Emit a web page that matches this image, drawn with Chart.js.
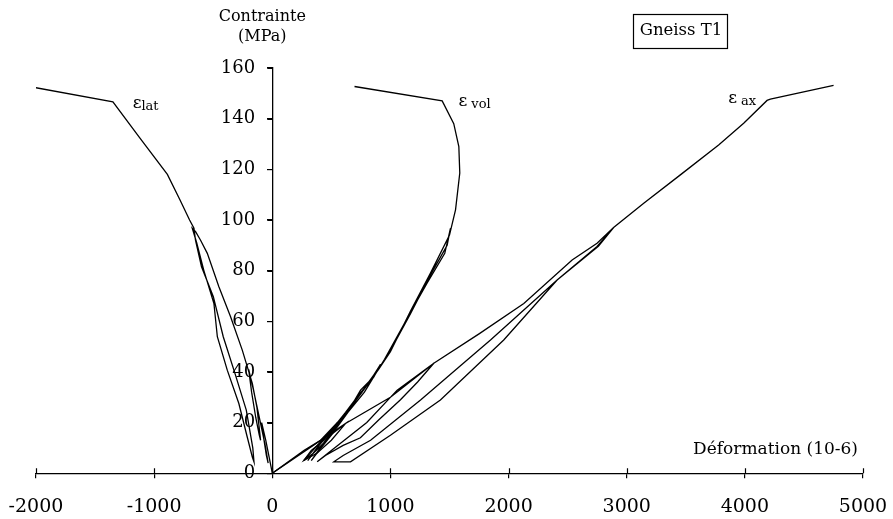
<!DOCTYPE html>
<html>
<head>
<meta charset="utf-8">
<script src="https://cdn.jsdelivr.net/npm/chart.js@4"></script>
<style>
  html, body { margin: 0; padding: 0; background: #fff; }
</style>
</head>
<body>
<canvas id="chart" width="893" height="519"></canvas>
<script>
const xTickValues = [-2000, -1000, 0, 1000, 2000, 3000, 4000, 5000];
const yTickValues = [0, 20, 40, 60, 80, 100, 120, 140, 160];

const seriesNames = ['lat', 'vol', 'ax'];

// lateral strain, cycles then failure
const latX = [0, -25, -55, -90, -70, -50, -35, -60, -110, -160, -200, -175, -140, -110, -99, -130, -169, -254, -353, -452, -550, -607, -649, -677,
  -640, -579, -494, -465, -381, -283, -212, -169, -155, -165, -220, -316, -415, -499, -599, -650, -663, -700, -782, -888, -1120, -1349, -2011];
const latY = [0, 6, 13, 20, 13, 7, 4, 11, 22, 33, 41, 32, 22, 15, 13, 26, 35.5, 48.6, 61.8, 73.6, 86.8, 92, 95.4, 96.7,
  91, 80, 67, 53.9, 40.7, 27.5, 14.3, 6.4, 4.5, 10, 24.9, 39.4, 53.9, 69.7, 81.5, 92, 96.7, 100, 108, 118, 132.3, 146.6, 152.3];

// volumetric strain
const volX = [0, 270, 409, 550, 480, 350, 267, 400, 550, 662, 747, 832, 916, 860, 733, 620, 500, 380, 300, 409, 550, 680, 800, 972, 1170, 1339, 1480, 1508,
  1460, 1310, 1140, 950, 780, 640, 500, 380, 330, 450, 600, 760, 900, 1000, 1170, 1339, 1500, 1551, 1587, 1579, 1536, 1438, 696];
const volY = [0, 9, 13, 20, 14, 8, 5, 12, 19.6, 26, 32.8, 36.8, 43, 38, 31, 24, 17, 10, 5, 12, 19, 27, 35, 46, 63, 78.3, 90, 96.7,
  86.8, 75, 61, 45, 32, 24, 15, 8, 5, 13, 22, 32, 41, 48, 64, 79, 94, 104, 118.5, 129, 138, 147, 152.7];

// axial strain
const axX = [0, 300, 620, 500, 380, 267, 330, 450, 620, 1000, 1367, 1230, 1085, 900, 746, 600, 450, 380,
  500, 800, 1057, 1367, 1750, 2129, 2538, 2749, 2889,
  2760, 2411, 1959, 1423, 1000, 662, 521,
  600, 832, 1255, 1600, 1847, 2411, 2749, 2889, 3144, 3454, 3778, 3990, 4188, 4216, 4751];
const axY = [0, 9.5, 19.6, 13, 8, 5, 9, 13.5, 19.6, 30, 43.4, 36, 29, 21, 14, 11, 7, 4.5,
  9, 20, 32.8, 43.4, 55, 67, 84.2, 90.8, 97,
  89.6, 76.3, 52.6, 28.9, 15, 4.5, 4.5,
  7, 13, 28.9, 42.7, 52.6, 76.3, 89.5, 97, 106.6, 117.8, 129.6, 138.2, 147.2, 147.7, 153.1];

const toPoints = (xs, ys) => xs.map((x, i) => ({ x, y: ys[i] }));

const SERIF = '"DejaVu Serif", "Liberation Serif", serif';

const makeDataset = (name, xs, ys) => ({
    label: name,
    data: toPoints(xs, ys),
    showLine: true,
    borderColor: '#000',
    borderWidth: 1.3,
    pointRadius: 0,
    tension: 0,
    fill: false,
});

const textPlugin = {
    id: 'textPlugin',
    afterDraw(chart) {
        const ctx = chart.ctx;
        const xs = chart.scales.x;
        const ys = chart.scales.y;
        const axisX = xs.getPixelForValue(0);
        ctx.save();
        ctx.fillStyle = '#000';
        ctx.strokeStyle = '#000';

        // the other half of each tick mark
        ctx.lineWidth = 1.2;
        ctx.beginPath();
        xTickValues.forEach(v => {
            const px = Math.round(xs.getPixelForValue(v)) + 0.5;
            const py = ys.getPixelForValue(0);
            ctx.moveTo(px, py - 5);
            ctx.lineTo(px, py);
        });
        yTickValues.forEach(v => {
            const py = Math.round(ys.getPixelForValue(v)) + 0.5;
            ctx.moveTo(axisX - 5, py);
            ctx.lineTo(axisX, py);
        });
        ctx.stroke();

        // axis titles
        ctx.font = `16px ${SERIF}`;
        ctx.textAlign = 'center';
        ctx.textBaseline = 'middle';
        ctx.fillText('Contrainte', axisX - 10, 17);
        ctx.fillText('(MPa)', axisX - 10, 37);
        ctx.font = `17px ${SERIF}`;
        ctx.textAlign = 'right';
        ctx.fillText('Déformation (10-6)', xs.getPixelForValue(5000) - 5, 450);

        // sample box
        ctx.font = `16.5px ${SERIF}`;
        ctx.textAlign = 'center';
        ctx.fillText('Gneiss T1', 681, 31);
        ctx.lineWidth = 1.2;
        ctx.strokeRect(633.5, 14.5, 94, 34);

        // curve labels
        const labelAt = (x, y, sub, gap) => {
            const px = xs.getPixelForValue(x);
            const py = ys.getPixelForValue(y);
            ctx.textAlign = 'left';
            ctx.textBaseline = 'alphabetic';
            ctx.font = `17px ${SERIF}`;
            ctx.fillText('ε', px, py + 5);
            const w = ctx.measureText('ε').width;
            ctx.font = `13px ${SERIF}`;
            ctx.fillText(sub, px + w + gap, py + 7);
        };
        labelAt(-1182, 146, 'lat', 0);
        labelAt(1576, 147, 'vol', 4);
        labelAt(3860, 148, 'ax', 4);
        ctx.restore();
    }
};

new Chart(document.getElementById('chart'), {
    type: 'scatter',
    data: {
        datasets: [
            makeDataset(seriesNames[0], latX, latY),
            makeDataset(seriesNames[1], volX, volY),
            makeDataset(seriesNames[2], axX, axY),
        ],
    },
    options: {
        responsive: false,
        animation: false,
        layout: { padding: { left: 36, right: 30, top: 68, bottom: -16 } },
        plugins: { legend: { display: false }, tooltip: { enabled: false } },
        scales: {
            x: {
                type: 'linear',
                min: -2000,
                max: 5000,
                position: 'bottom',
                afterBuildTicks: (scale) => { scale.ticks = xTickValues.map(v => ({ value: v })); },
                afterFit: (scale) => { scale.paddingLeft = 0; scale.paddingRight = 0; },
                grid: { drawOnChartArea: false, drawTicks: true, tickLength: 5, color: '#000', lineWidth: 1.2 },
                border: { color: '#000', width: 1.3 },
                ticks: { padding: 17, color: '#000', font: { family: SERIF, size: 19 }, maxRotation: 0,
                    callback: (v) => String(v) },
            },
            y: {
                type: 'linear',
                min: 0,
                max: 160,
                position: { x: 0 },
                afterBuildTicks: (scale) => { scale.ticks = yTickValues.map(v => ({ value: v })); },
                grid: { drawOnChartArea: false, drawTicks: true, tickLength: 5, color: '#000', lineWidth: 1.2 },
                border: { color: '#000', width: 1.3 },
                ticks: { color: '#000', font: { family: SERIF, size: 18 },
                    callback: (v) => v + '   ' },
            },
        },
    },
    plugins: [textPlugin],
});
</script>
</body>
</html>
